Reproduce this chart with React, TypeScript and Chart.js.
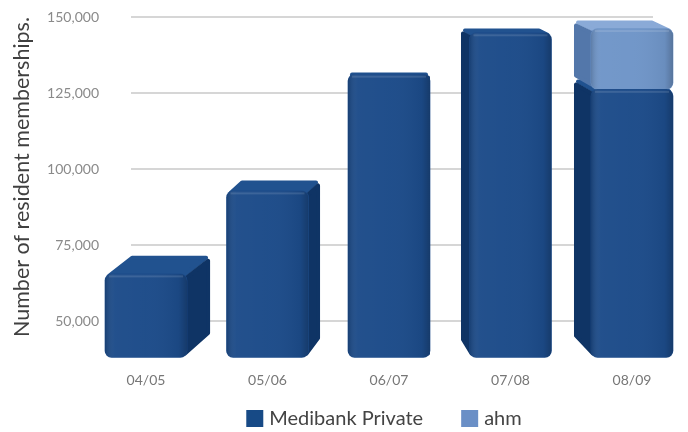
import React, { useEffect, useRef } from "react";
import { Chart, registerables } from "chart.js";
Chart.register(...registerables);

const CATEGORIES = ["04/05", "05/06", "06/07", "07/08", "08/09"];
const MEDIBANK = [65500, 92800, 131200, 144800, 126200];
const AHM: (number | null)[] = [null, null, null, null, 20000];
const Y_TICKS = [50000, 75000, 100000, 125000, 150000];
const Y_MIN = 38000;
const Y_MAX = 150000;
const SERIES_NAMES = ["Medibank Private", "ahm"];
const Y_TITLE = "Number of resident memberships.";

const FRONT = ["#1c4b89", "#6f95c8"];
const SIDE = ["#0f3465", "#5377aa"];
const TOP = ["#21528f", "#8aaad7"];
const LEGEND_BOX = ["#174a86", "#6a8fc6"];

// ahm segment floats on top of the Medibank value (stack built from the arrays)
const AHM_FLOATING = AHM.map((v, i) => (v == null ? null : [MEDIBANK[i], MEDIBANK[i] + v]));

function depthOf(chart: any, x: number, top: number, base: number) {
  const { chartArea } = chart;
  const vpX = (chartArea.left + chartArea.right) / 2;
  const raw = vpX - x;
  const dx = raw * (raw > 0 ? 0.095 : 0.07);
  const f = (py: number) => -(0.45 * Math.abs(dx) + 0.03 * (py - chartArea.top));
  return { dx, dyTop: f(top), dyBase: f(base) };
}

const depthPlugin = {
  id: "depth3d",
  beforeDatasetsDraw(chart: any) {
    const { ctx, chartArea, scales } = chart;
    ctx.save();
    ctx.strokeStyle = "#c9c9c9";
    ctx.lineWidth = 1.5;
    Y_TICKS.forEach((t) => {
      const py = scales.y.getPixelForValue(t);
      ctx.beginPath();
      ctx.moveTo(chartArea.left - 15, py);
      ctx.lineTo(chartArea.right + 21, py);
      ctx.stroke();
    });
    chart.data.datasets.forEach((ds: any, di: number) => {
      const meta = chart.getDatasetMeta(di);
      meta.data.forEach((el: any, i: number) => {
        if (ds.data[i] == null) return;
        const { x, y: top, base, width } = el.getProps(["x", "y", "base", "width"], true);
        const { dx, dyTop, dyBase } = depthOf(chart, x, top, base);
        const left = x - width / 2;
        const right = x + width / 2;
        const edge = dx >= 0 ? right - 2 : left + 2;
        ctx.lineJoin = "round";
        ctx.lineWidth = 4;
        ctx.fillStyle = TOP[di];
        ctx.strokeStyle = TOP[di];
        ctx.beginPath();
        ctx.moveTo(left + 4, top + 2);
        ctx.lineTo(left + 4 + dx, top + dyTop + 2);
        ctx.lineTo(right - 4 + dx, top + dyTop + 2);
        ctx.lineTo(right - 4, top + 2);
        ctx.closePath();
        ctx.fill();
        ctx.stroke();
        ctx.fillStyle = SIDE[di];
        ctx.strokeStyle = SIDE[di];
        ctx.beginPath();
        ctx.moveTo(edge, top + 5);
        ctx.lineTo(edge + dx, top + dyTop + 5);
        ctx.lineTo(edge + dx, base + dyBase - 4);
        ctx.lineTo(edge, base - 4);
        ctx.closePath();
        ctx.fill();
        ctx.stroke();
      });
    });
    ctx.restore();
  },
  afterDatasetsDraw(chart: any) {
    const { ctx } = chart;
    chart.data.datasets.forEach((ds: any, di: number) => {
      const meta = chart.getDatasetMeta(di);
      meta.data.forEach((el: any, i: number) => {
        if (ds.data[i] == null) return;
        const { x, y: top, base, width } = el.getProps(["x", "y", "base", "width"], true);
        const left = x - width / 2;
        ctx.save();
        ctx.beginPath();
        (ctx as any).roundRect(left, top, width, base - top, 7);
        ctx.clip();
        const g = ctx.createLinearGradient(left, 0, left + width, 0);
        g.addColorStop(0, "rgba(0,0,0,0.16)");
        g.addColorStop(0.12, "rgba(255,255,255,0.03)");
        g.addColorStop(0.5, "rgba(255,255,255,0.02)");
        g.addColorStop(0.9, "rgba(0,0,0,0.05)");
        g.addColorStop(1, "rgba(0,0,0,0.22)");
        ctx.fillStyle = g;
        ctx.fillRect(left, top, width, base - top);
        ctx.fillStyle = "rgba(255,255,255,0.12)";
        ctx.fillRect(left + 4, top + 1.5, width - 8, 2);
        ctx.restore();
      });
    });
  },
  afterDraw(chart: any) {
    const { ctx, chartArea } = chart;
    ctx.save();
    ctx.font = "20px Lato";
    ctx.textBaseline = "middle";
    ctx.textAlign = "left";
    const box = 17;
    const gap = 6;
    const itemGap = 38;
    const widths = SERIES_NAMES.map((n) => box + gap + ctx.measureText(n).width);
    const total = widths.reduce((a, b) => a + b, 0) + itemGap * (SERIES_NAMES.length - 1);
    const cx = (chartArea.left + chartArea.right) / 2 - 5;
    const cy = chartArea.bottom + 61;
    let x = cx - total / 2;
    SERIES_NAMES.forEach((n, i) => {
      ctx.fillStyle = LEGEND_BOX[i];
      ctx.fillRect(x, cy - box / 2, box, box);
      ctx.fillStyle = "#444444";
      ctx.fillText(n, x + box + gap, cy);
      x += widths[i] + itemGap;
    });
    ctx.restore();
  },
};

export default function App() {
  const ref = useRef<HTMLCanvasElement | null>(null);
  useEffect(() => {
    document.body.style.margin = "0";
    const canvas = ref.current;
    if (!canvas) return;
    Chart.defaults.font.family = "Lato";
    const chart = new Chart(canvas, {
      type: "bar",
      data: {
        labels: CATEGORIES,
        datasets: [
          {
            label: SERIES_NAMES[0],
            data: MEDIBANK,
            base: Y_MIN,
            backgroundColor: FRONT[0],
            borderRadius: 7,
            borderSkipped: false,
            barThickness: 82,
            clip: false as any,
          } as any,
          {
            label: SERIES_NAMES[1],
            data: AHM_FLOATING as any,
            backgroundColor: FRONT[1],
            borderRadius: 7,
            borderSkipped: false,
            barThickness: 82,
            clip: false as any,
          },
        ],
      },
      options: {
        responsive: false,
        animation: false,
        layout: { padding: { top: 17, right: 56, left: 0, bottom: 42.5 } },
        plugins: {
          tooltip: { enabled: false },
          legend: { display: false },
        },
        scales: {
          x: {
            stacked: true,
            offset: false,
            grid: { display: false, drawTicks: false },
            border: { display: false },
            ticks: { color: "#777777", font: { family: "Lato", size: 14 }, padding: 15 },
            afterFit: (s: any) => {
              s.height = 32;
            },
          },
          y: {
            stacked: false,
            min: Y_MIN,
            max: Y_MAX,
            afterBuildTicks: (s: any) => {
              s.ticks = Y_TICKS.map((v) => ({ value: v }));
            },
            afterFit: (s: any) => {
              s.width = 146;
              s.paddingTop = 8;
              s.paddingBottom = 8;
            },
            grid: { display: false, drawTicks: false },
            border: { display: false },
            ticks: {
              padding: 47,
              color: "#8a8a8a",
              font: { family: "Lato", size: 14 },
              callback: (v: any) => Number(v).toLocaleString("en-US"),
            },
            title: {
              display: true,
              text: Y_TITLE,
              align: "end",
              color: "#404040",
              font: { family: "Lato", size: 21.5 },
              padding: { top: 9, bottom: 0 },
            },
          },
        },
      },
      plugins: [depthPlugin],
    });
    return () => chart.destroy();
  }, []);
  return (
    <div style={{ width: 688, height: 432 }}>
      <canvas ref={ref} width={688} height={432} style={{ display: "block" }} />
    </div>
  );
}
